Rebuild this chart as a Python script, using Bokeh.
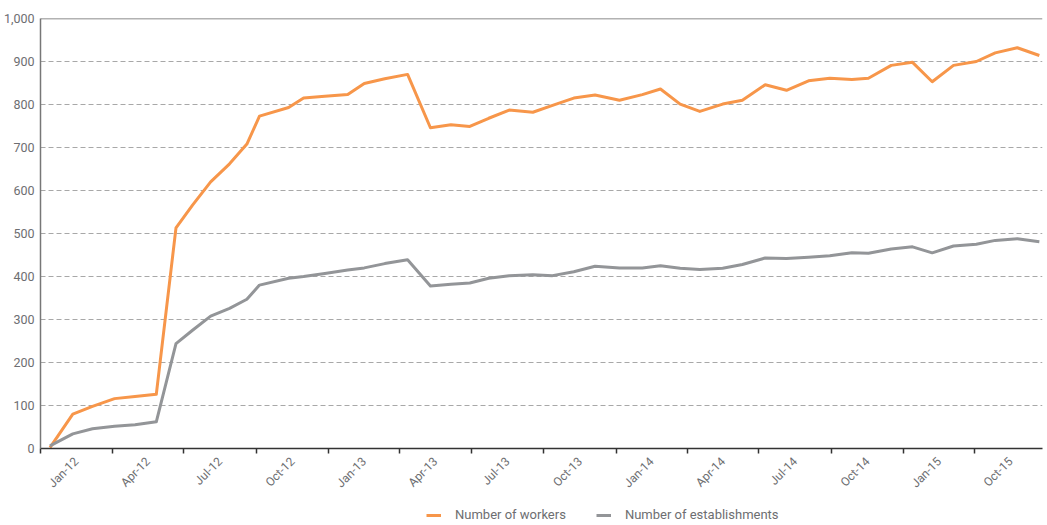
import math
import pandas as pd
from bokeh.plotting import figure
from bokeh.layouts import column
from bokeh.models import (ColumnDataSource, Range1d, FixedTicker, NumeralTickFormatter,
                          Span, Legend, LegendItem)
from bokeh.embed import file_html
from bokeh.resources import INLINE

dates = [
    "2012-01-13", "2012-02-11", "2012-03-07", "2012-04-04", "2012-04-30", "2012-05-27",
    "2012-06-21", "2012-07-12", "2012-08-04", "2012-08-28", "2012-09-19", "2012-10-05",
    "2012-11-11", "2012-11-30", "2012-12-27", "2013-01-25", "2013-02-15", "2013-03-13",
    "2013-04-11", "2013-05-10", "2013-06-05", "2013-06-29", "2013-07-23", "2013-08-18",
    "2013-09-17", "2013-10-12", "2013-11-08", "2013-12-05", "2014-01-05", "2014-02-03",
    "2014-02-26", "2014-03-23", "2014-04-17", "2014-05-16", "2014-06-10", "2014-07-09",
    "2014-08-05", "2014-09-02", "2014-09-29", "2014-10-27", "2014-11-17", "2014-12-16",
    "2015-01-12", "2015-02-06", "2015-03-05", "2015-04-03", "2015-04-27", "2015-05-25",
    "2015-06-22",
]
workers = [
    2, 80, 98, 116, 121, 126,
    513, 566, 620, 662, 708, 773,
    793, 815, 819, 823, 849, 860,
    870, 746, 753, 749, 768, 787,
    782, 798, 815, 822, 810, 823,
    836, 801, 784, 801, 810, 846,
    833, 855, 861, 858, 861, 891,
    898, 853, 891, 900, 920, 932,
    914,
]
establishments = [
    6, 34, 46, 52, 55, 62,
    244, 275, 308, 326, 347, 380,
    396, 400, 407, 415, 420, 430,
    439, 378, 382, 385, 396, 402,
    404, 402, 411, 424, 420, 420,
    425, 419, 416, 419, 428, 443,
    442, 445, 448, 455, 454, 464,
    469, 455, 471, 475, 484, 488,
    481,
]
quarter_labels = ["Jan-12", "Apr-12", "Jul-12", "Oct-12", "Jan-13", "Apr-13", "Jul-13",
                  "Oct-13", "Jan-14", "Apr-14", "Jul-14", "Oct-14", "Jan-15", "Oct-15"]
y_ticks = [0, 100, 200, 300, 400, 500, 600, 700, 800, 900, 1000]
series_names = ["Number of workers", "Number of establishments"]
series_colors = ["#F7964A", "#939598"]

LABEL_COLOR = "#6d6e71"
FONT = "Roboto"

src = ColumnDataSource(dict(date=pd.to_datetime(dates), workers=workers,
                            establishments=establishments))

p = figure(frame_width=1002, frame_height=430, x_axis_type="datetime", output_backend="svg",
           toolbar_location=None,
           x_range=Range1d(pd.Timestamp("2012-01-01"), pd.Timestamp("2015-06-26")),
           y_range=Range1d(0, 1000),
           min_border_left=35, min_border_right=2, min_border_top=18, min_border_bottom=0)
p.outline_line_color = None
p.background_fill_color = "white"
p.border_fill_color = "white"

# quarter boundaries (tick marks) and label positions in the middle of each quarter
qs = pd.date_range("2012-01-01", periods=len(quarter_labels) + 1, freq="QS")
q_ms = [float(t.value / 1e6) for t in qs]
mids = [float((a + b) / 2) for a, b in zip(q_ms[:-1], q_ms[1:])]

xa = p.xaxis[0]
xa.ticker = FixedTicker(ticks=mids, minor_ticks=q_ms)
xa.major_label_overrides = {m: lab for m, lab in zip(mids, quarter_labels)}
xa.major_label_orientation = math.pi / 4
xa.major_tick_out = 0
xa.major_tick_in = 0
xa.minor_tick_out = 5
xa.minor_tick_in = 0
xa.minor_tick_line_color = "#333333"
xa.minor_tick_line_width = 1.5
xa.axis_line_color = "#333333"
xa.axis_line_width = 1.5
xa.major_label_text_font = FONT
xa.major_label_text_font_size = "12px"
xa.major_label_text_color = LABEL_COLOR
xa.major_label_standoff = 6
xa.axis_label = None
xa.axis_label_standoff = 0

ya = p.yaxis[0]
ya.ticker = FixedTicker(ticks=y_ticks)
ya.formatter = NumeralTickFormatter(format="0,0")
ya.major_tick_out = 0
ya.major_tick_in = 0
ya.minor_tick_out = 0
ya.minor_tick_in = 0
ya.axis_line_color = "#777777"
ya.axis_line_width = 1.5
ya.major_label_text_font = FONT
ya.major_label_text_font_size = "12.5px"
ya.major_label_text_color = LABEL_COLOR
ya.major_label_standoff = 6
ya.axis_label = None

p.xgrid.visible = False
p.ygrid.ticker = FixedTicker(ticks=y_ticks[1:-1])
p.ygrid.grid_line_color = "#a8a8a8"
p.ygrid.grid_line_dash = "5 3"
p.ygrid.grid_line_width = 1

p.add_layout(Span(location=y_ticks[-1], dimension="width", line_color="#666666", line_width=1.5))

p.line("date", "workers", source=src, line_color=series_colors[0], line_width=3,
       line_join="round")
p.line("date", "establishments", source=src, line_color=series_colors[1], line_width=3,
       line_join="round")

# legend strip below the chart: same series, renderers hidden, only the legend is shown
lp = figure(width=1041, height=26, output_backend="svg", toolbar_location=None,
            x_range=p.x_range, y_range=p.y_range, x_axis_type="datetime",
            x_axis_location=None, y_axis_location=None, min_border=0)
lp.outline_line_color = None
lp.grid.visible = False
lp.background_fill_color = "white"
lp.border_fill_color = "white"
l1 = lp.line("date", "workers", source=src, line_color=series_colors[0], line_width=3)
l2 = lp.line("date", "establishments", source=src, line_color=series_colors[1], line_width=3)
l1.visible = False
l2.visible = False

legend = Legend(items=[LegendItem(label=series_names[0], renderers=[l1]),
                       LegendItem(label=series_names[1], renderers=[l2])],
                orientation="horizontal", location=(386, 2),
                border_line_color=None, background_fill_alpha=0,
                inactive_fill_alpha=0,
                padding=0, margin=0, spacing=30, label_standoff=14,
                glyph_width=15, glyph_height=14, label_height=14,
                label_text_font=FONT, label_text_font_size="13px",
                label_text_color=LABEL_COLOR)
lp.add_layout(legend, "center")

layout = column(p, lp, spacing=0)
open("out.html", "w").write(file_html(layout, INLINE))
